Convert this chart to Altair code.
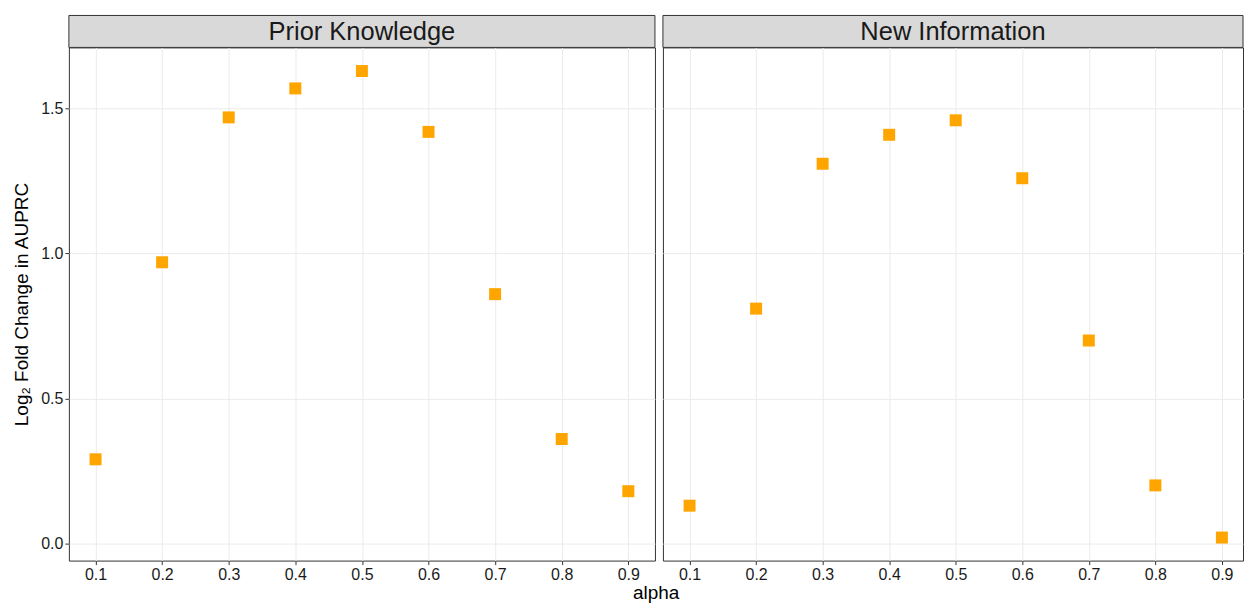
import altair as alt
import pandas as pd

alpha = [0.1, 0.2, 0.3, 0.4, 0.5, 0.6, 0.7, 0.8, 0.9]
prior_knowledge = [0.29, 0.97, 1.47, 1.57, 1.63, 1.42, 0.86, 0.36, 0.18]
new_information = [0.13, 0.81, 1.31, 1.41, 1.46, 1.26, 0.70, 0.20, 0.02]
panels = ["Prior Knowledge", "New Information"]
x_ticks = [0.1, 0.2, 0.3, 0.4, 0.5, 0.6, 0.7, 0.8, 0.9]
y_ticks = [0.0, 0.5, 1.0, 1.5]

Y_DOMAIN = [-0.0595, 1.7115]
FONT = "Liberation Sans"
TXT = "#1A1A1A"


def panel(values, name, width, x_domain, first):
    df = pd.DataFrame({"alpha": alpha, "value": values})
    yaxis = alt.Axis(values=y_ticks, format=".1f", title="Log₂ Fold Change in AUPRC",
                     titleFontSize=19, titleFontWeight="normal", titleColor="black",
                     titlePadding=9, labelFontSize=16, labelColor=TXT,
                     tickColor="#333333", tickSize=4, labelPadding=2,
                     domain=False, grid=True, gridColor="#EBEBEB") if first else \
        alt.Axis(values=y_ticks, title=None, labels=False, ticks=False, domain=False,
                 grid=True, gridColor="#EBEBEB")
    points = alt.Chart(df).mark_square(size=144, color="#FFA500", opacity=1).encode(
        x=alt.X("alpha:Q", scale=alt.Scale(domain=x_domain, nice=False, zero=False),
                axis=alt.Axis(values=x_ticks, format=".1f", title=None, labelFontSize=16,
                              labelColor=TXT, tickColor="#333333", tickSize=4,
                              labelPadding=2, domain=False, grid=True,
                              gridColor="#EBEBEB")),
        y=alt.Y("value:Q", scale=alt.Scale(domain=Y_DOMAIN, nice=False, zero=False),
                axis=yaxis),
    )
    strip_df = pd.DataFrame({"panel": [name]})
    strip = alt.Chart(strip_df).mark_rect(fill="#D9D9D9", stroke="#333333",
                                         strokeWidth=1, clip=False).encode(
        x=alt.value(0), x2=alt.value(width), y=alt.value(-32), y2=alt.value(0)
    )
    label = alt.Chart(strip_df).mark_text(fontSize=25.5, font=FONT, color=TXT,
                                          align="center", baseline="middle").encode(
        x=alt.value(width / 2), y=alt.value(-15), text="panel:N"
    )
    return alt.layer(points, strip, label).properties(width=width, height=514)


p1 = panel(prior_knowledge, panels[0], 587, [0.06, 0.94], True)
p2 = panel(new_information, panels[1], 581, [0.06, 0.06 + 581 / 666.5], False)

chart = alt.hconcat(p1, p2, spacing=6).properties(
    title=alt.TitleParams("alpha", orient="bottom", anchor="middle", fontSize=19,
                          fontWeight="normal", color="black", font=FONT, offset=1,
                          dx=28),
    padding={"left": 12, "top": 14, "right": 0, "bottom": 0},
).configure(font=FONT).configure_view(stroke="#333333", strokeWidth=1).configure_axis(
    labelFont=FONT, titleFont=FONT
)

chart.save("out.html", embed_options={"renderer": "svg", "actions": False})
